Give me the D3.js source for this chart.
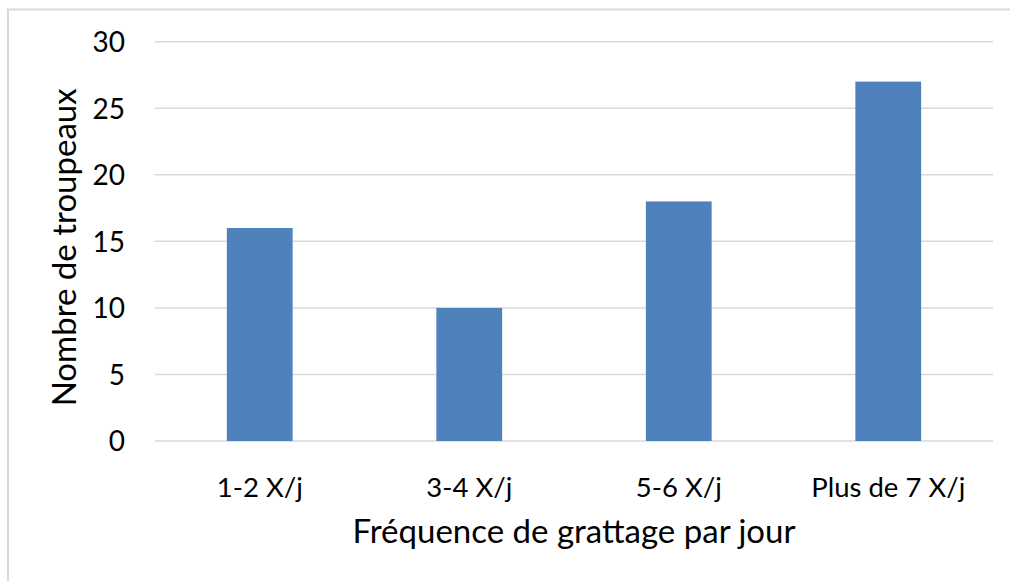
<!DOCTYPE html>
<html>
<head>
<meta charset="utf-8">
<script src="https://cdn.jsdelivr.net/npm/d3@7"></script>
<style>
  html, body { margin: 0; padding: 0; background: #fff; }
  svg { display: block; }
  text { font-family: Lato, "Open Sans", sans-serif; fill: #000; }
</style>
</head>
<body>
<svg id="chart" width="1010" height="581"></svg>
<script>
// Scratching frequency per day vs number of herds
const categories = ["1-2 X/j", "3-4 X/j", "5-6 X/j", "Plus de 7 X/j"];
const herdCounts = [16, 10, 18, 27];
const yTicks = [0, 5, 10, 15, 20, 25, 30];
const xTitle = "Fréquence de grattage par jour";
const yTitle = "Nombre de troupeaux";

const svg = d3.select("#chart");
const plot = { left: 155, right: 993, top: 41.7, bottom: 441 };

// chart frame (left and top edges)
svg.append("path")
  .attr("d", "M8,581 V9.5 H1010")
  .attr("fill", "none")
  .attr("stroke", "#d9d9d9")
  .attr("stroke-width", 2);

const x = d3.scaleBand()
  .domain(categories)
  .range([plot.left, plot.right])
  .paddingInner(0.686)
  .paddingOuter(0.343);

const y = d3.scaleLinear()
  .domain([0, 30])
  .range([plot.bottom, plot.top]);

// horizontal gridlines
svg.append("g")
  .selectAll("line")
  .data(yTicks)
  .join("line")
  .attr("x1", plot.left)
  .attr("x2", plot.right)
  .attr("y1", d => y(d))
  .attr("y2", d => y(d))
  .attr("stroke", "#d9d9d9")
  .attr("stroke-width", 1.5);

// bars
svg.append("g")
  .selectAll("rect")
  .data(categories.map((c, i) => ({ c, v: herdCounts[i] })))
  .join("rect")
  .attr("x", d => x(d.c))
  .attr("width", x.bandwidth())
  .attr("y", d => y(d.v))
  .attr("height", d => y(0) - y(d.v))
  .attr("fill", "#4f81bd");

// y axis labels
const yAxis = d3.axisLeft(y).tickValues(yTicks).tickSize(0).tickPadding(0);
const gy = svg.append("g")
  .attr("transform", `translate(125,0)`)
  .call(yAxis);
gy.select(".domain").remove();
gy.selectAll("text")
  .attr("font-size", 28)
  .attr("font-family", "Lato, 'Open Sans', sans-serif")
  .attr("fill", "#000")
  .attr("dy", "0.35em");

// x axis labels
const xAxis = d3.axisBottom(x).tickSize(0).tickPadding(0);
const gx = svg.append("g")
  .attr("transform", `translate(0,${plot.bottom})`)
  .call(xAxis);
gx.select(".domain").remove();
gx.selectAll("text")
  .attr("font-size", 27.5)
  .attr("font-family", "Lato, 'Open Sans', sans-serif")
  .attr("fill", "#000")
  .attr("dy", null)
  .attr("y", 56);

// axis titles
svg.append("text")
  .attr("x", 574)
  .attr("y", 543)
  .attr("text-anchor", "middle")
  .attr("font-size", 33)
  .text(xTitle);

svg.append("text")
  .attr("transform", `translate(76,${(plot.top + plot.bottom) / 2 + 6}) rotate(-90)`)
  .attr("text-anchor", "middle")
  .attr("font-size", 33)
  .text(yTitle);
</script>
</body>
</html>
